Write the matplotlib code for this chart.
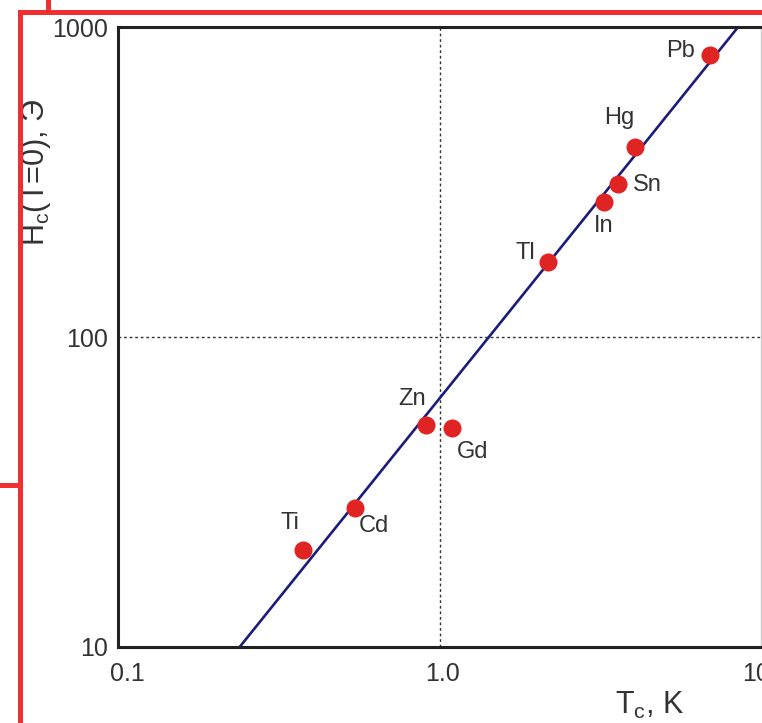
import matplotlib
matplotlib.use('Agg')
import matplotlib.pyplot as plt
from matplotlib.lines import Line2D
from matplotlib.transforms import ScaledTranslation

plt.rcParams['font.family'] = ['Liberation Sans', 'DejaVu Sans']
plt.rcParams['mathtext.fontset'] = 'custom'
plt.rcParams['mathtext.rm'] = 'Liberation Sans'

# superconductors: Tc (K) and Hc(T=0) (Oe)
elements = ['Pb', 'Hg', 'Sn', 'In', 'Tl', 'Zn', 'Gd', 'Cd', 'Ti']
tc = [6.95, 4.05, 3.58, 3.24, 2.17, 0.905, 1.09, 0.545, 0.377]
hc = [813, 410, 312, 272, 175, 52, 50.8, 28, 20.6]

# fit line endpoints
fit_x = [0.239, 8.49]
fit_y = [10, 1000]

xticks = [0.1, 1, 10]
xtick_labels = ['0.1', '1.0', '10']
yticks = [10, 100, 1000]
ytick_labels = ['10', '100', '1000']

# label offsets in points (dx, dy, ha, va)
label_pos = {
    'Pb': (-11, 3, 'right', 'center'),
    'Hg': (0, 13, 'right', 'bottom'),
    'Sn': (11, -1, 'left', 'center'),
    'In': (0, -9, 'center', 'top'),
    'Tl': (-9, 6, 'right', 'center'),
    'Zn': (0, 11, 'right', 'bottom'),
    'Gd': (4, -9, 'left', 'top'),
    'Cd': (3, -5, 'left', 'top'),
    'Ti': (-3, 11, 'right', 'bottom'),
}

fig = plt.figure(figsize=(7.62, 7.23), dpi=100)
ax = fig.add_axes([118/762, 76/723, 643/762, 620/723])

ax.plot(fit_x, fit_y, color='#1c1c7a', lw=1.9, zorder=2)
ax.plot(tc, hc, 'o', color='#e02424', ms=13, mec='none', zorder=3)

for name, x, y in zip(elements, tc, hc):
    dx, dy, ha, va = label_pos[name]
    ax.annotate(name, (x, y), xytext=(dx, dy), textcoords='offset points',
                ha=ha, va=va, fontsize=17, color='#333333')

ax.set_xscale('log')
ax.set_yscale('log')
ax.set_xlim(0.1, 10)
ax.set_ylim(10, 1000)
ax.set_xticks(xticks)
ax.set_xticklabels(xtick_labels)
ax.set_yticks(yticks)
ax.set_yticklabels(ytick_labels)
ax.minorticks_off()
ax.tick_params(length=0, labelsize=18, labelcolor='#333333')
ax.tick_params(axis='x', pad=11)
ax.tick_params(axis='y', pad=7)

# x tick labels sit slightly off their ticks in the original
for lab, shift in zip(ax.get_xticklabels(), [9, 3, -5]):
    lab.set_transform(lab.get_transform() + ScaledTranslation(shift/100, 0, fig.dpi_scale_trans))

ax.axvline(1, color='#333333', lw=1, ls=(0, (2, 2)), zorder=1)
ax.axhline(100, color='#333333', lw=1, ls=(0, (2, 2)), zorder=1)

for side in ['left', 'bottom', 'top']:
    ax.spines[side].set_linewidth(2.2)
    ax.spines[side].set_color('#222222')
ax.spines['right'].set_linewidth(1)
ax.spines['right'].set_color('#cccccc')

ax.set_ylabel('H$_\\mathregular{c}$(T=0), Э', fontsize=22, color='#333333', va='center')
ax.yaxis.set_label_coords(-0.1275, 0.766)
ax.set_xlabel('T$_\\mathregular{c}$, K', fontsize=22, color='#333333', va='center')
ax.xaxis.set_label_coords(0.827, -0.0935)

# red slide frame
red = '#f03030'
fig.add_artist(Line2D([20/762, 1], [1 - 12/723, 1 - 12/723], color=red, lw=3.6))
fig.add_artist(Line2D([20/762, 20/762], [1 - 12/723, 0], color=red, lw=3.6))
fig.add_artist(Line2D([48/762, 48/762], [1, 1 - 12/723], color=red, lw=3.6))
fig.add_artist(Line2D([0, 20/762], [1 - 485/723, 1 - 485/723], color=red, lw=3.6))

fig.savefig('out.png', dpi=100)
